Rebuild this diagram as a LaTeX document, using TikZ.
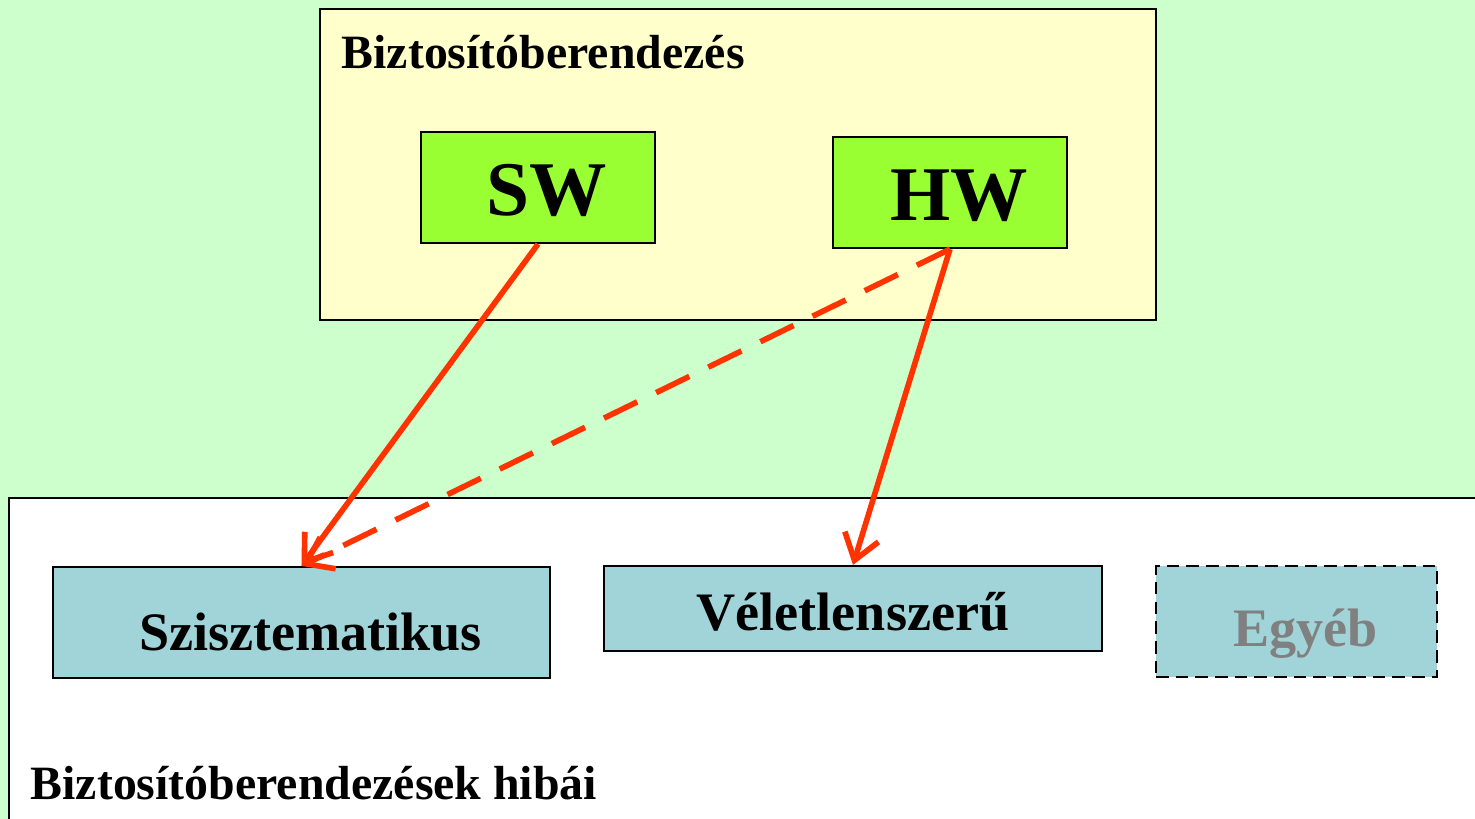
\documentclass[tikz,border=0pt]{standalone}
\usepackage{fontspec}
\setmainfont{Liberation Serif}
\usetikzlibrary{arrows.meta,positioning}
\definecolor{areagreen}{RGB}{204,255,204}
\definecolor{areayellow}{RGB}{255,255,204}
\definecolor{unitgreen}{RGB}{153,255,51}
\definecolor{faultteal}{RGB}{160,212,216}
\definecolor{causered}{RGB}{255,51,0}

\begin{document}
\begin{tikzpicture}[x=0.01cm, y=-0.01cm,
    unit/.style={draw, fill=unitgreen, line width=0.6pt, minimum width=2.34cm, minimum height=1.11cm, text height=0.56cm, text depth=0pt, font=\fontsize{22}{26}\selectfont\bfseries},
    fault/.style={draw, fill=faultteal, line width=0.6pt, minimum width=4.97cm, minimum height=1.11cm, text height=0.56cm, text depth=0pt, font=\fontsize{15.4}{18}\selectfont\bfseries},
    nudge/.style={execute at begin node=\hspace*{0.18cm}},
    heading/.style={anchor=base west, inner sep=0pt, font=\fontsize{13.6}{16}\selectfont\bfseries},
    arrow/.style={-{Straight Barb[length=7pt, width=10pt]}, line width=1.6pt, causered}
]

% Background
\useasboundingbox (0,0) rectangle (1475,819);
\fill[areagreen] (0,0) rectangle (1475,819);

% Interlocking system
\draw[fill=areayellow, line width=0.6pt] (320,9) rectangle (1156,320);
\node[heading] (systitle) at (341,69) {Biztosítóberendezés};

\node[unit, nudge] (sw) at (538,187.5) {SW};
\node[unit, nudge] (hw) at (950,192.5) {HW};

% Faults area
\draw[fill=white, line width=0.6pt] (9,840) -- (9,498) -- (1490,498) -- (1490,840) -- cycle;
\node[heading] (faulttitle) at (30,800) {Biztosítóberendezések hibái};

\node[fault, nudge] (szisz) at (301.5,622.5) {Szisztematikus};
\node[fault, minimum width=4.98cm, minimum height=0.85cm, text height=0.44cm] (velet) at (853,608.5) {Véletlenszerű};
\node[fault, nudge, dash pattern=on 3.6pt off 2pt, minimum width=2.81cm, text height=0.5cm, text=gray] (egyeb) at (1296.5,621.5) {Egyéb};

% Causes
\draw[arrow] (sw.south) -- (szisz.north);
\draw[arrow, dash pattern=on 10.5pt off 6pt] (hw.south) -- (szisz.north);
\draw[arrow] (hw.south) -- (velet.north);

\end{tikzpicture}
\end{document}
